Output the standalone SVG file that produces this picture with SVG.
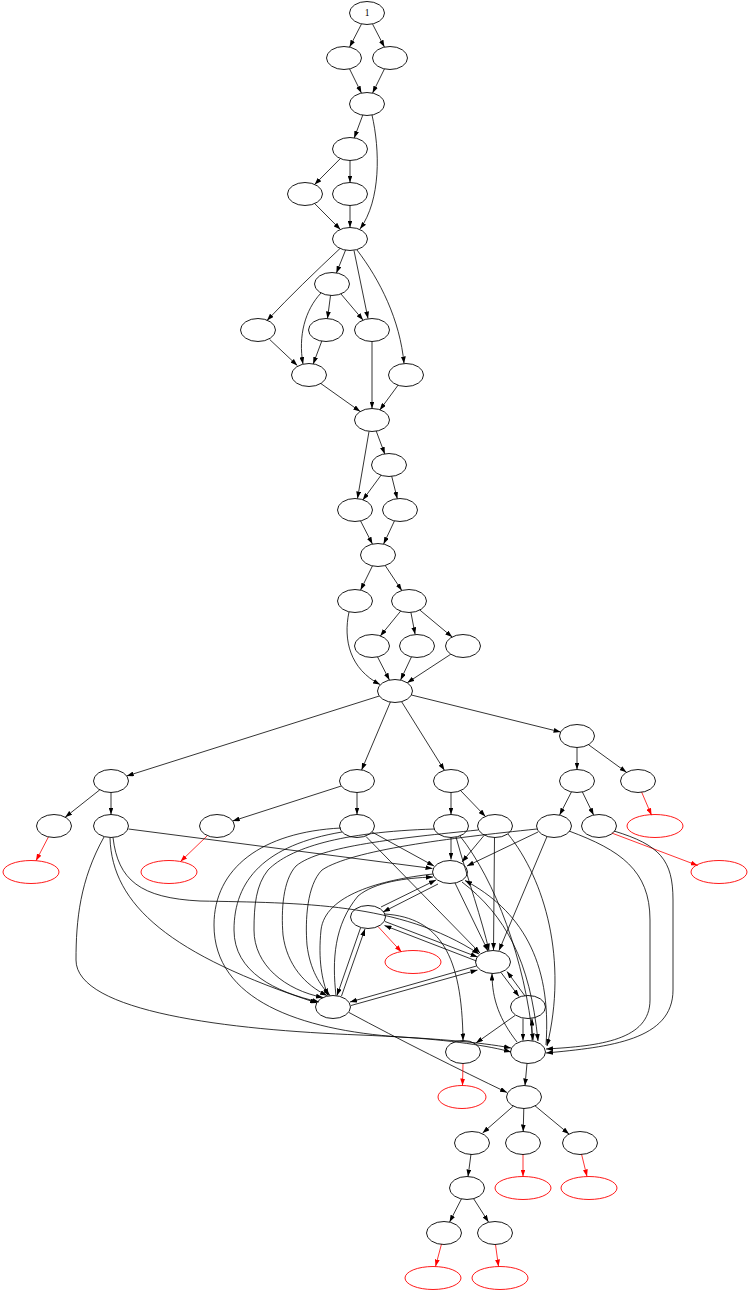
<svg xmlns="http://www.w3.org/2000/svg" width="750" height="1293" viewBox="0 0 750 1293">
<style>
.k{fill:none;stroke:#000;stroke-width:0.9}
.rd{fill:none;stroke:#f00;stroke-width:0.9}
.e{fill:none;stroke:#000;stroke-width:0.8;marker-end:url(#ah)}
.er{fill:none;stroke:#f00;stroke-width:0.8;marker-end:url(#ahr)}
text{font-family:"Liberation Serif","Times New Roman",serif;font-size:9.5px;text-anchor:middle}
</style>
<defs>
<marker id="ah" viewBox="0 0 10 7" refX="10" refY="3.5" markerWidth="7" markerHeight="4.9" markerUnits="userSpaceOnUse" orient="auto"><path d="M0,0L10,3.5L0,7z" fill="#000"/></marker>
<marker id="ahr" viewBox="0 0 10 7" refX="10" refY="3.5" markerWidth="7" markerHeight="4.9" markerUnits="userSpaceOnUse" orient="auto"><path d="M0,0L10,3.5L0,7z" fill="#f00"/></marker>
</defs>
<rect width="750" height="1293" fill="#fff"/>
<g id="edges">
<path class="e" d="M361.4,24.2L349.6,47"/>
<path class="e" d="M372.6,24.2L384.4,47"/>
<path class="e" d="M349.6,69L361.4,93"/>
<path class="e" d="M384.4,69L372.6,93"/>
<path class="e" d="M362.8,115L354.2,138"/>
<path class="e" d="M372,115C380,150 381,200 360,229"/>
<path class="e" d="M340.4,158.5L314.6,184.5"/>
<path class="e" d="M350,160.5L350,182.5"/>
<path class="e" d="M314.6,203.5L340.4,229.5"/>
<path class="e" d="M350,205.5L350,227.5"/>
<path class="e" d="M345.6,250L336.4,273"/>
<path class="e" d="M340,248.5C315,272 290,296 267,320.5"/>
<path class="e" d="M354,250.5L368,318.5"/>
<path class="e" d="M357,250C380,280 400,320 404,363.5"/>
<path class="e" d="M330.5,295.5L327.5,318.5"/>
<path class="e" d="M341,294L363,320"/>
<path class="e" d="M321,293C305,310 298,336 303,364"/>
<path class="e" d="M269.7,339.5L297.3,365.5"/>
<path class="e" d="M321.8,341L313.2,364"/>
<path class="e" d="M372,341.5L372,408.5"/>
<path class="e" d="M398.2,385L379.8,410"/>
<path class="e" d="M320.8,383.5L360.2,411.5"/>
<path class="e" d="M376.2,431L384.8,454"/>
<path class="e" d="M369,431.5L357.5,498.5"/>
<path class="e" d="M381.2,475L362.8,500"/>
<path class="e" d="M391.7,476.2L397.3,498.8"/>
<path class="e" d="M360.6,521L372.4,544"/>
<path class="e" d="M394.4,521L383.6,544"/>
<path class="e" d="M372.4,566L360.6,590"/>
<path class="e" d="M385.2,565.5L401.8,590.5"/>
<path class="e" d="M400.7,611L380.3,636"/>
<path class="e" d="M410.9,612.3L415.1,634.3"/>
<path class="e" d="M419.8,610L452.2,637"/>
<path class="e" d="M349,612C343,640 350,669 380,684.5"/>
<path class="e" d="M377.6,657L389.4,680"/>
<path class="e" d="M411.4,657L400.6,680"/>
<path class="e" d="M450.7,654.3L407.3,682.7"/>
<path class="e" d="M379.3,696L126.7,776"/>
<path class="e" d="M390.4,702L361.6,770"/>
<path class="e" d="M401.6,701.7L444.4,770.3"/>
<path class="e" d="M411.4,695L560.6,732"/>
<path class="e" d="M577,747.5L577,769.5"/>
<path class="e" d="M588.5,744.7L626.5,772.3"/>
<path class="e" d="M99.8,789.8L65.2,817.2"/>
<path class="e" d="M111,792.5L111,814.5"/>
<path class="e" d="M341.3,786L232.7,821"/>
<path class="e" d="M357,792.5L357,814.5"/>
<path class="e" d="M451,792.5L451,814.5"/>
<path class="e" d="M460.6,790.6L485.4,816.4"/>
<path class="e" d="M571.4,792L559.6,815"/>
<path class="e" d="M582.4,792L593.6,815"/>
<path class="er" d="M641.6,792L651.5,815.2"/>
<path class="er" d="M48.4,837L36,860.8"/>
<path class="er" d="M207,836L180.5,861.5"/>
<path class="er" d="M611.7,833L697.7,865.5"/>
<path class="e" d="M128.5,829L432.5,868.5"/>
<path class="e" d="M113,837.5C118,880 140,898 200,901C300,903 400,902 479,954"/>
<path class="e" d="M110,838C112,905 170,955 317,1003"/>
<path class="e" d="M104,837C80,880 76,920 76,960C76,1012 230,1030 360,1035C430,1038 480,1042 511,1048"/>
<path class="e" d="M372,832L434,866"/>
<path class="e" d="M366,836.5L480,953"/>
<path class="e" d="M342,832C265,845 234,880 234,930C234,972 275,992 319,1002"/>
<path class="e" d="M341,828C262,832 214,868 214,925C214,1000 300,1030 400,1037C450,1040 490,1046 511,1052"/>
<path class="e" d="M451,837.5L451,859.5"/>
<path class="e" d="M456,837C468,880 482,920 489,950.5"/>
<path class="e" d="M434.5,829C340,832 290,848 268,870C256,885 254,905 254,930C254,965 285,990 323,997.5"/>
<path class="e" d="M460,836C495,880 525,960 533,1040.5"/>
<path class="e" d="M484,835.5L462,862"/>
<path class="e" d="M494.5,837.5L493.5,950"/>
<path class="e" d="M478,830C400,838 320,846 296,866C283,880 281,910 283,935C287,965 305,985 327,995.5"/>
<path class="e" d="M508,834C545,880 568,960 547,1046"/>
<path class="e" d="M538,832L467,866"/>
<path class="e" d="M547,836.5L499,950.5"/>
<path class="e" d="M537,829C450,838 352,850 322,870C307,885 305,920 307,945C310,970 320,985 330,995.5"/>
<path class="e" d="M569,831C620,850 650,870 650,920L650,1000C650,1040 600,1046 546,1049"/>
<path class="e" d="M614,831C660,845 673,860 673,900L673,990C673,1040 610,1047 546,1053"/>
<path class="e" d="M438,884L383,912"/>
<path class="e" d="M381,907L436,880"/>
<path class="e" d="M385,921.5L477.5,957"/>
<path class="e" d="M476.5,961L384.5,925.5"/>
<path class="e" d="M360.5,928L337,995.5"/>
<path class="e" d="M341.5,996L365,929"/>
<path class="er" d="M378,926.5L401.5,952"/>
<path class="e" d="M385,914C440,918 462,955 463,1040.5"/>
<path class="e" d="M455,883L488,951"/>
<path class="e" d="M433,874C380,880 325,895 321,930C318,960 322,980 328,995.5"/>
<path class="e" d="M336,995.5C332,960 334,925 358,896C375,882 405,878 433,877"/>
<path class="e" d="M462,882C505,915 530,960 538,1041"/>
<path class="e" d="M546,1045C552,960 520,910 465,880.5"/>
<path class="e" d="M476.5,966L350,1002"/>
<path class="e" d="M351,1005.5L477.5,970"/>
<path class="e" d="M501,972.5L519,996.5"/>
<path class="e" d="M525,996L507,971.5"/>
<path class="e" d="M517,1042C500,1020 492,1000 492,973.5"/>
<path class="e" d="M523,1018.5L523,1040.5"/>
<path class="e" d="M532,1040.5L532,1018.5"/>
<path class="e" d="M515,1015.5L476,1043"/>
<path class="e" d="M349,1012.5C400,1040 460,1070 507,1092.5"/>
<path class="e" d="M527,1063.5L525,1085.5"/>
<path class="er" d="M463,1063.5L462.5,1085.5"/>
<path class="e" d="M513.4,1106L482.6,1133"/>
<path class="e" d="M523.8,1108.5L523.2,1131.5"/>
<path class="e" d="M535,1105.8L569,1134"/>
<path class="e" d="M471,1154L468,1176.5"/>
<path class="er" d="M523,1154L523,1176.5"/>
<path class="er" d="M581.5,1154L587,1176.5"/>
<path class="e" d="M461.4,1199L449.6,1222"/>
<path class="e" d="M473.5,1198.5L488.5,1222"/>
<path class="er" d="M441.5,1244L435.5,1266.5"/>
<path class="er" d="M495.5,1244.5L498.5,1266.5"/>
</g>
<g id="nodes">
<g id="n1"><ellipse class="k" cx="367" cy="13" rx="17.5" ry="11.5"/><text x="367" y="16.4">1</text></g>
<g id="nA"><ellipse class="k" cx="344" cy="58" rx="17.5" ry="11.5"/></g>
<g id="nB"><ellipse class="k" cx="390" cy="58" rx="17.5" ry="11.5"/></g>
<g id="nC"><ellipse class="k" cx="367" cy="104" rx="17.5" ry="11.5"/></g>
<g id="nD"><ellipse class="k" cx="350" cy="149" rx="17.5" ry="11.5"/></g>
<g id="nE"><ellipse class="k" cx="305" cy="194" rx="17.5" ry="11.5"/></g>
<g id="nF"><ellipse class="k" cx="350" cy="194" rx="17.5" ry="11.5"/></g>
<g id="nG"><ellipse class="k" cx="350" cy="239" rx="17.5" ry="11.5"/></g>
<g id="nH"><ellipse class="k" cx="332" cy="284" rx="17.5" ry="11.5"/></g>
<g id="nI"><ellipse class="k" cx="258" cy="330" rx="17.5" ry="11.5"/></g>
<g id="nJ"><ellipse class="k" cx="326" cy="330" rx="17.5" ry="11.5"/></g>
<g id="nK"><ellipse class="k" cx="372" cy="330" rx="17.5" ry="11.5"/></g>
<g id="nL"><ellipse class="k" cx="309" cy="375" rx="17.5" ry="11.5"/></g>
<g id="nM"><ellipse class="k" cx="406" cy="375" rx="17.5" ry="11.5"/></g>
<g id="nN"><ellipse class="k" cx="372" cy="420" rx="17.5" ry="11.5"/></g>
<g id="nO"><ellipse class="k" cx="389" cy="465" rx="17.5" ry="11.5"/></g>
<g id="nP"><ellipse class="k" cx="355" cy="510" rx="17.5" ry="11.5"/></g>
<g id="nQ"><ellipse class="k" cx="400" cy="510" rx="17.5" ry="11.5"/></g>
<g id="nR"><ellipse class="k" cx="378" cy="555" rx="17.5" ry="11.5"/></g>
<g id="nS"><ellipse class="k" cx="355" cy="601" rx="17.5" ry="11.5"/></g>
<g id="nT"><ellipse class="k" cx="409" cy="601" rx="17.5" ry="11.5"/></g>
<g id="nU"><ellipse class="k" cx="372" cy="646" rx="17.5" ry="11.5"/></g>
<g id="nV"><ellipse class="k" cx="417" cy="646" rx="17.5" ry="11.5"/></g>
<g id="nW"><ellipse class="k" cx="463" cy="646" rx="17.5" ry="11.5"/></g>
<g id="nX"><ellipse class="k" cx="395" cy="691" rx="17.5" ry="11.5"/></g>
<g id="nY"><ellipse class="k" cx="577" cy="736" rx="17.5" ry="11.5"/></g>
<g id="na"><ellipse class="k" cx="111" cy="781" rx="17.5" ry="11.5"/></g>
<g id="nb"><ellipse class="k" cx="357" cy="781" rx="17.5" ry="11.5"/></g>
<g id="nc"><ellipse class="k" cx="451" cy="781" rx="17.5" ry="11.5"/></g>
<g id="nd"><ellipse class="k" cx="577" cy="781" rx="17.5" ry="11.5"/></g>
<g id="ne"><ellipse class="k" cx="638" cy="781" rx="17.5" ry="11.5"/></g>
<g id="nf"><ellipse class="k" cx="54" cy="826" rx="17.5" ry="11.5"/></g>
<g id="ng"><ellipse class="k" cx="111" cy="826" rx="17.5" ry="11.5"/></g>
<g id="nh"><ellipse class="k" cx="217" cy="826" rx="17.5" ry="11.5"/></g>
<g id="ni"><ellipse class="k" cx="357" cy="826" rx="17.5" ry="11.5"/></g>
<g id="nj"><ellipse class="k" cx="451" cy="826" rx="17.5" ry="11.5"/></g>
<g id="nk"><ellipse class="k" cx="495" cy="826" rx="17.5" ry="11.5"/></g>
<g id="nl"><ellipse class="k" cx="554" cy="826" rx="17.5" ry="11.5"/></g>
<g id="nm"><ellipse class="k" cx="599" cy="826" rx="17.5" ry="11.5"/></g>
<g id="r1"><ellipse class="rd" cx="655" cy="826" rx="28" ry="11.5"/></g>
<g id="r2"><ellipse class="rd" cx="31" cy="872" rx="28" ry="11.5"/></g>
<g id="r3"><ellipse class="rd" cx="169" cy="872" rx="28" ry="11.5"/></g>
<g id="nn"><ellipse class="k" cx="450" cy="872" rx="17.5" ry="11.5"/></g>
<g id="r4"><ellipse class="rd" cx="719" cy="872" rx="28" ry="11.5"/></g>
<g id="no"><ellipse class="k" cx="368" cy="917" rx="17.5" ry="11.5"/></g>
<g id="r5"><ellipse class="rd" cx="413" cy="962" rx="28" ry="11.5"/></g>
<g id="np"><ellipse class="k" cx="493" cy="962" rx="17.5" ry="11.5"/></g>
<g id="nq"><ellipse class="k" cx="333" cy="1007" rx="17.5" ry="11.5"/></g>
<g id="nr"><ellipse class="k" cx="528" cy="1007" rx="17.5" ry="11.5"/></g>
<g id="ns"><ellipse class="k" cx="463" cy="1052" rx="17.5" ry="11.5"/></g>
<g id="nt"><ellipse class="k" cx="528" cy="1052" rx="17.5" ry="11.5"/></g>
<g id="r6"><ellipse class="rd" cx="462" cy="1097" rx="24" ry="11.5"/></g>
<g id="nu"><ellipse class="k" cx="524" cy="1097" rx="17.5" ry="11.5"/></g>
<g id="nv"><ellipse class="k" cx="472" cy="1143" rx="17.5" ry="11.5"/></g>
<g id="nw"><ellipse class="k" cx="523" cy="1143" rx="17.5" ry="11.5"/></g>
<g id="nx"><ellipse class="k" cx="580" cy="1143" rx="17.5" ry="11.5"/></g>
<g id="ny"><ellipse class="k" cx="467" cy="1188" rx="17.5" ry="11.5"/></g>
<g id="r7"><ellipse class="rd" cx="523" cy="1188" rx="28" ry="11.5"/></g>
<g id="r8"><ellipse class="rd" cx="589" cy="1188" rx="28" ry="11.5"/></g>
<g id="nz"><ellipse class="k" cx="444" cy="1233" rx="17.5" ry="11.5"/></g>
<g id="naa"><ellipse class="k" cx="495" cy="1233" rx="17.5" ry="11.5"/></g>
<g id="r9"><ellipse class="rd" cx="433" cy="1278" rx="28" ry="11.5"/></g>
<g id="r10"><ellipse class="rd" cx="500" cy="1278" rx="28" ry="11.5"/></g>
</g>
</svg>
